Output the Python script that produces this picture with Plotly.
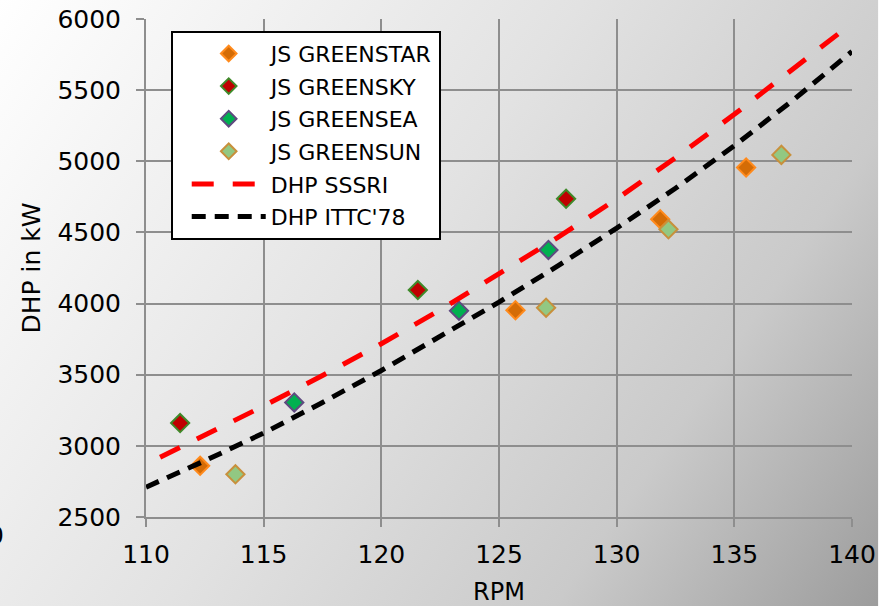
import base64
import plotly.graph_objects as go

# ---- data ----
rpm_star = [112.3, 125.7, 131.85, 135.5]
dhp_star = [2860, 3953, 4593, 4956]
rpm_sky = [111.45, 121.55, 127.85]
dhp_sky = [3160, 4095, 4736]
rpm_sea = [116.3, 123.3, 127.1]
dhp_sea = [3305, 3950, 4377]
rpm_sun = [113.8, 127.0, 132.2, 137.0]
dhp_sun = [2800, 3971, 4522, 5045]

rpm_sssri = [110.6, 112.5, 115, 117.5, 120, 122.5, 125, 127.5, 130, 132.5, 135, 137.5, 140]
dhp_sssri = [2920, 3075, 3280, 3495, 3718, 3955, 4205, 4465, 4735, 5025, 5330, 5645, 5970]
rpm_ittc = [110, 112.5, 115, 117.5, 120, 122.5, 125, 127.5, 130, 132.5, 135, 137.5, 140]
dhp_ittc = [2710, 2895, 3090, 3305, 3530, 3765, 4010, 4265, 4530, 4810, 5110, 5430, 5772]

x_ticks = [110, 115, 120, 125, 130, 135, 140]
y_ticks = [2500, 3000, 3500, 4000, 4500, 5000, 5500, 6000]

FONT = "DejaVu Sans"

fig = go.Figure()


def marker_trace(x, y, name, fill, border):
    fig.add_trace(go.Scatter(
        x=x, y=y, mode="markers", name=name, legendgroup=name,
        marker=dict(symbol="diamond", size=14, color=fill,
                    line=dict(color=border, width=2)),
    ))


marker_trace(rpm_star, dhp_star, "JS GREENSTAR", "#d46c06", "#ff8a1c")
marker_trace(rpm_sky, dhp_sky, "JS GREENSKY", "#c00000", "#3f8a2a")
marker_trace(rpm_sea, dhp_sea, "JS GREENSEA", "#00b050", "#5f4a80")
marker_trace(rpm_sun, dhp_sun, "JS GREENSUN", "#92c882", "#c8903c")

fig.add_trace(go.Scatter(
    x=rpm_sssri, y=dhp_sssri, mode="lines", name="DHP SSSRI", legendgroup="DHP SSSRI",
    line=dict(color="#ff0000", width=5, dash="22px,19px"),
))
fig.add_trace(go.Scatter(
    x=rpm_ittc, y=dhp_ittc, mode="lines", name="DHP ITTC'78", legendgroup="DHP ITTC'78",
    line=dict(color="#000000", width=5, dash="14px,9px"),
))

# gradient background image (style only)
svg = (
    '<svg xmlns="http://www.w3.org/2000/svg" width="878" height="606">'
    '<defs><linearGradient id="g" x1="0" y1="0" x2="878" y2="606" gradientUnits="userSpaceOnUse">'
    '<stop offset="0" stop-color="#ffffff"/>'
    '<stop offset="0.45" stop-color="#e2e2e2"/>'
    '<stop offset="0.75" stop-color="#cacaca"/>'
    '<stop offset="1" stop-color="#9c9c9c"/>'
    '</linearGradient></defs>'
    '<rect width="878" height="606" fill="url(#g)"/></svg>'
)
src = "data:image/svg+xml;base64," + base64.b64encode(svg.encode()).decode()

L, T, W, H = 146.3, 19.3, 705.4, 497.4
fig.add_layout_image(dict(
    source=src, xref="paper", yref="paper",
    x=-L / W, y=1 + T / H, sizex=878 / W, sizey=606 / H,
    xanchor="left", yanchor="top", sizing="stretch", layer="below",
))

# cut-off stray label at left edge
fig.add_annotation(
    text="0", xref="paper", yref="paper", x=(6 - L) / W, y=1 - (535 - T) / H,
    xanchor="right", yanchor="middle", showarrow=False,
    font=dict(family=FONT, size=25, color="#000000"),
)

axis_common = dict(
    showgrid=True, gridcolor="#8e8e8e", gridwidth=2,
    showline=True, linecolor="#8e8e8e", linewidth=2,
    ticks="outside", ticklen=8, tickwidth=2, tickcolor="#8e8e8e",
    zeroline=False, mirror=False, automargin=False,
    tickfont=dict(family=FONT, size=25, color="#000000"),
)

fig.update_layout(
    width=889, height=606,
    margin=dict(l=L, r=889 - L - W, t=T, b=606 - T - H, autoexpand=False),
    paper_bgcolor="#ffffff", plot_bgcolor="rgba(0,0,0,0)",
    font=dict(family=FONT, color="#000000"),
    xaxis=dict(range=[110, 140], tickvals=x_ticks, ticktext=[str(v) for v in x_ticks],
               title=dict(text="RPM", font=dict(family=FONT, size=24)),
               ticklabelstandoff=6, **axis_common),
    yaxis=dict(range=[2500, 6000], tickvals=y_ticks, ticktext=[str(v) for v in y_ticks],
               title=dict(text="DHP in kW", font=dict(family=FONT, size=25), standoff=10),
               ticklabelstandoff=10, **axis_common),
    showlegend=True,
    legend=dict(
        x=(171 - L) / W, y=1 - (31 - T) / H, xanchor="left", yanchor="top",
        bgcolor="#ffffff", bordercolor="#000000", borderwidth=2,
        font=dict(family=FONT, size=22, color="#000000"),
        itemsizing="constant", itemwidth=74, indentation=14,
        tracegroupgap=1,
    ),
)

fig.write_html("out.html")
